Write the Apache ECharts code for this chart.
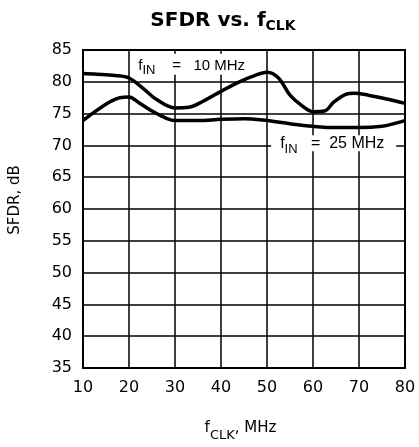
<!DOCTYPE html>
<html>
<head>
<meta charset="utf-8">
<script src="https://cdn.jsdelivr.net/npm/echarts/dist/echarts.min.js"></script>
<style>
  html, body { margin: 0; padding: 0; background: #fff; }
  #chart { width: 419px; height: 447px; }
</style>
</head>
<body>
<div id="chart"></div>
<script>
// fIN = 10 MHz curve
var fclk10 = [10, 13, 17, 20, 23, 26, 30, 33, 36, 40, 44, 47, 50, 52.5, 55, 57.5, 60, 62.5, 64.5, 67, 69, 72, 76, 80];
var sfdr10 = [81.3, 81.2, 81.0, 80.6, 79.0, 77.2, 75.9, 76.0, 76.9, 78.5, 80.0, 80.9, 81.5, 80.6, 77.9, 76.3, 75.3, 75.4, 76.8, 78.0, 78.2, 77.9, 77.3, 76.6];
// fIN = 25 MHz curve
var fclk25 = [10, 12, 14, 16, 18, 20, 22, 25, 28, 30, 35, 40, 45, 50, 55, 60, 65, 70, 75, 78, 80];
var sfdr25 = [73.9, 75.0, 76.0, 76.9, 77.5, 77.6, 76.8, 75.4, 74.3, 73.9, 73.9, 74.1, 74.2, 73.9, 73.4, 73.0, 72.8, 72.8, 73.0, 73.5, 73.9];

var xTicks = [10, 20, 30, 40, 50, 60, 70, 80];
var yTicks = [35, 40, 45, 50, 55, 60, 65, 70, 75, 80, 85];

function pairs(xs, ys) {
  var out = [];
  for (var i = 0; i < xs.length; i++) out.push([xs[i], ys[i]]);
  return out;
}

var font = "'DejaVu Sans', sans-serif";
var labFont = "'Liberation Sans', Arial, sans-serif";

var chart = echarts.init(document.getElementById('chart'));

// annotation label with subscript "IN"
function labelStyle(txt, pad, size, subPad) {
  return {
    show: true,
    formatter: txt,
    color: '#000',
    fontFamily: labFont,
    fontSize: size,
    backgroundColor: '#fff',
    padding: pad,
    rich: {
      t: { fontSize: size, fontFamily: labFont, color: '#000', lineHeight: 16 },
      sub: { fontSize: 13, fontFamily: labFont, color: '#000', lineHeight: 12, padding: [subPad, 0, 0, 0] }
    }
  };
}

var option = {
  animation: false,
  backgroundColor: '#fff',
  title: {
    text: 'SFDR vs. f{sub|CLK}',
    left: 218,
    textAlign: 'center',
    top: 4,
    textStyle: {
      fontFamily: font,
      fontSize: 20,
      fontWeight: 'bold',
      color: '#000',
      rich: {
        sub: { fontFamily: font, fontSize: 14, fontWeight: 'bold', color: '#000', padding: [10, 0, 0, 0] }
      }
    }
  },
  grid: {
    left: 82,
    right: 14,
    top: 50,
    bottom: 72,
    show: true,
    borderColor: '#000',
    borderWidth: 2
  },
  xAxis: {
    type: 'value',
    min: xTicks[0],
    max: xTicks[xTicks.length - 1],
    interval: 10,
    name: 'f{sub|CLK}, MHz',
    nameLocation: 'middle',
    nameGap: 47,
    nameTextStyle: {
      fontFamily: font,
      fontSize: 15,
      color: '#000',
      padding: [0, 7, 0, 0],
      rich: {
        sub: { fontFamily: font, fontSize: 13, color: '#000', padding: [14, 0, 0, 0] }
      }
    },
    axisLine: { show: false },
    axisTick: { show: false },
    axisLabel: { color: '#000', fontFamily: font, fontSize: 16, margin: 12 },
    splitLine: { show: true, lineStyle: { color: '#000', width: 1.5 } }
  },
  yAxis: {
    type: 'value',
    min: yTicks[0],
    max: yTicks[yTicks.length - 1],
    interval: 5,
    name: 'SFDR, dB',
    nameLocation: 'middle',
    nameGap: 60,
    nameTextStyle: { fontFamily: font, fontSize: 15, color: '#000', padding: [0, 0, 0, 18] },
    axisLine: { show: false },
    axisTick: { show: false },
    axisLabel: { color: '#000', fontFamily: font, fontSize: 16, margin: 11 },
    splitLine: { show: true, lineStyle: { color: '#000', width: 1.5 } }
  },
  series: [
    {
      name: 'fIN = 10 MHz',
      type: 'line',
      smooth: 0.35,
      symbol: 'none',
      lineStyle: { color: '#000', width: 3.5 },
      data: pairs(fclk10, sfdr10),
      z: 3,
      markPoint: {
        symbol: 'rect',
        symbolSize: 0,
        silent: true,
        z: 5,
        label: labelStyle('{t|f}{sub|IN}{t|    =   10 MHz}', [4, 4, 1, 7], 15, 10),
        data: [{ coord: [33.3, 82.74] }]
      }
    },
    {
      name: 'fIN = 25 MHz',
      type: 'line',
      smooth: 0.35,
      symbol: 'none',
      lineStyle: { color: '#000', width: 3.5 },
      data: pairs(fclk25, sfdr25),
      z: 3,
      markPoint: {
        symbol: 'rect',
        symbolSize: 0,
        silent: true,
        z: 5,
        label: labelStyle('{t|f}{sub|IN}{t|   =  25 MHz}', [0, 12, 0, 9], 16, 12),
        data: [{ coord: [64.5, 70.35] }]
      }
    }
  ]
};

chart.setOption(option);
</script>
</body>
</html>
